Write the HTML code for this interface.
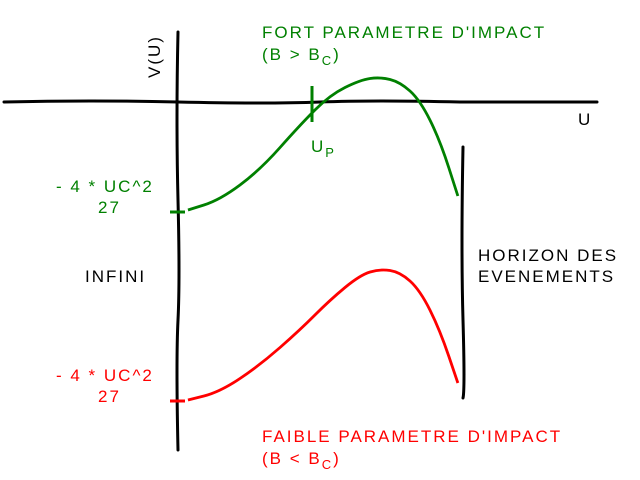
<!DOCTYPE html>
<html><head><meta charset="utf-8"><style>
body{margin:0;background:#fff}
svg{display:block}
text{font-family:"Liberation Sans",sans-serif;font-size:17px;letter-spacing:2px;font-weight:500}
</style></head><body>
<svg width="640" height="480" viewBox="0 0 640 480">
<g id="axes" stroke="#000" stroke-width="3" fill="none" stroke-linecap="round">
<path d="M4,102 Q90,100 178,102 T320,102 T460,102 L597,102"/>
<path d="M178,32 Q176,120 178,200 T178,320 T178,450"/>
<path d="M463,147 Q461,250 463,320 T463,398"/>
</g>
<path d="M312,86 L312,122" stroke="#008000" stroke-width="3"/>
<path d="M170,212 L185,212" stroke="#008000" stroke-width="3"/>
<path d="M170,401 L185,401" stroke="#ff0000" stroke-width="3"/>
<g id="series"></g>
<text transform="translate(160,78) rotate(-90)">V(U)</text>
<text x="578" y="125">U</text>
<text x="311" y="152" fill="#008000">U<tspan dy="5" font-size="13">P</tspan></text>
<text x="262" y="38" fill="#008000">FORT PARAMETRE D'IMPACT</text>
<text x="262" y="60" fill="#008000">(B &gt; B<tspan dy="5" font-size="13">C</tspan><tspan dy="-5">)</tspan></text>
<text x="56" y="192" fill="#008000">- 4 * UC^2</text>
<text x="98" y="213" fill="#008000">27</text>
<text x="56" y="381" fill="#ff0000">- 4 * UC^2</text>
<text x="98" y="402" fill="#ff0000">27</text>
<text x="85" y="282">INFINI</text>
<text x="478" y="261">HORIZON DES</text>
<text x="478" y="282">EVENEMENTS</text>
<text x="262" y="442" fill="#ff0000">FAIBLE PARAMETRE D'IMPACT</text>
<text x="262" y="464" fill="#ff0000">(B &lt; B<tspan dy="5" font-size="13">C</tspan><tspan dy="-5">)</tspan></text>
</svg>
<script>
const uValues=[0.035,0.147,0.288,0.428,0.533,0.639,0.709,0.779,0.849,0.919,0.982];
const greenV=[-1.08,-0.98,-0.68,-0.23,0.07,0.22,0.25,0.20,0.02,-0.38,-0.94];
const redV=[-2.98,-2.90,-2.63,-2.28,-1.98,-1.73,-1.67,-1.70,-1.88,-2.28,-2.81];
const xs=u=>178+u*285;
const ys=v=>102-v*100;
const g=document.getElementById('series');
function draw(vals,color,name){
  const p=document.createElementNS('http://www.w3.org/2000/svg','path');
  let d='M'+xs(uValues[0])+','+ys(vals[0]);
  for(let i=1;i<vals.length;i++){
    const x0=xs(uValues[i-1]),y0=ys(vals[i-1]),x1=xs(uValues[i]),y1=ys(vals[i]);
    const xm=(x0+x1)/2,ym=(y0+y1)/2;
    d+=(i==1?' L':' Q'+x0+','+y0+' ')+xm+','+ym;
  }
  d+=' L'+xs(uValues[vals.length-1])+','+ys(vals[vals.length-1]);
  p.setAttribute('d',d);
  p.setAttribute('stroke',color);
  p.setAttribute('stroke-width','2.8');
  p.setAttribute('fill','none');
  
  
  g.appendChild(p);
}
draw(greenV,'#008000','green-curve');
draw(redV,'#ff0000','red-curve');
</script>
</body></html>
